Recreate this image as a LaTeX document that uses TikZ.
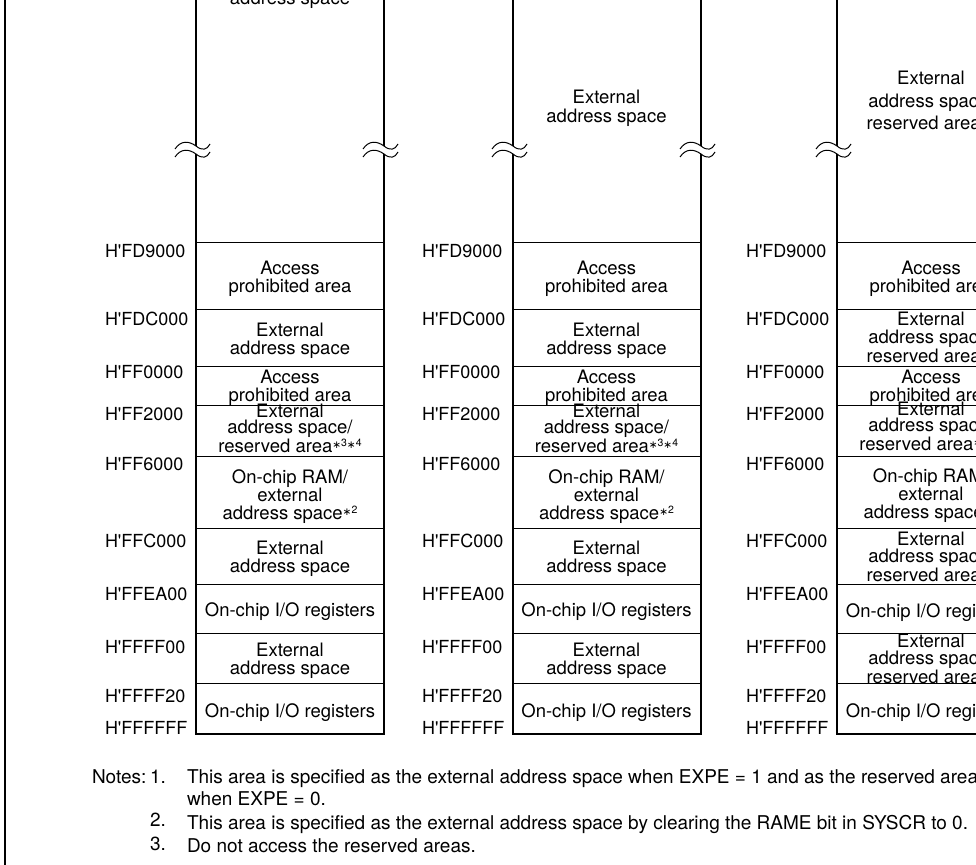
\documentclass[tikz,border=0pt]{standalone}
\usepackage{fontspec}
\setmainfont{TeX Gyre Heros}
\newfontfamily\djv{DejaVu Sans}
\newcommand\fnote[1]{{\fontsize{10.5}{10.5}\selectfont\raisebox{5.5pt}{#1}}}
\newcommand\stp{\raisebox{-1.5pt}{\djv ∗}}
\newcommand\hq{H\textquotesingle}
\begin{document}
\begin{tikzpicture}[x=1pt,y=-1pt,
  every node/.style={inner sep=0pt,outer sep=0pt,font=\fontsize{18.5}{18}\selectfont},
  cell/.style={anchor=base,align=center},
  addr/.style={anchor=base west,font=\fontsize{18}{18}\selectfont},
  notetext/.style={anchor=base west,font=\fontsize{19}{19}\selectfont},
  frame/.style={line width=2pt,line join=miter},
  divider/.style={line width=1pt},
  wave/.style={line width=1pt},
  brk/.pic={\draw[wave] (-21,3) .. controls (-15,-6) and (-7,-5) .. (0,0) .. controls (6,5) and (11,4) .. (14,-2);}]
\useasboundingbox (0,0) rectangle (976,864);
\clip (0,0) rectangle (976,864);
% outer frame line
\draw[frame] (5,-10) -- (5,874);
% memory columns
\foreach \L/\c in {196/a,513/b,837/c} {
  \pgfmathsetmacro\R{\L+188}
  \draw[frame] (\L,-10) -- (\L,146);
  \draw[frame] (\L,154) -- (\L,734) -- (\R,734) -- (\R,154);
  \draw[frame] (\R,146) -- (\R,-10);
  \foreach \y in {242,309,366,405,456,528,584,633,683}
    \draw[divider] (\L,\y) -- (\R,\y);
  \foreach \x in {\L,\R} {
    \pic at (\x,146) {brk};
    \pic at (\x,154) {brk};
  }
  \foreach \t/\b [count=\k] in {FD9000/257,FDC000/325,FF0000/378,FF2000/420,FF6000/470,FFC000/547,FFEA00/600,FFFF00/653,FFFF20/702,FFFFFF/734}
    \node[addr] (\c lab\k) at (\L-91,\b) {\hq\t};
}
% column 1 (anchor = baseline of last line)
\node[cell] (a0) at (290,5) {External\\address space};
\node[cell] (a1) at (290,292) {Access\\prohibited area};
\node[cell] (a2) at (290,354) {External\\address space};
\node[cell] (a3) at (290,401) {Access\\prohibited area};
\node[cell,font=\fontsize{18.5}{16}\selectfont] (a4) at (290,452) {External\\address space/\\reserved area\fnote{\stp3\stp4}};
\node[cell] (a5) at (290,519) {On-chip RAM/\\external\\address space\fnote{\stp2}};
\node[cell] (a6) at (290,572) {External\\address space};
\node[cell] (a7) at (290,616) {On-chip I/O registers};
\node[cell] (a8) at (290,674) {External\\address space};
\node[cell] (a9) at (290,717) {On-chip I/O registers};
% column 2
\node[cell] (b0) at (606.5,122) {External\\address space};
\node[cell] (b1) at (606.5,292) {Access\\prohibited area};
\node[cell] (b2) at (606.5,354) {External\\address space};
\node[cell] (b3) at (606.5,401) {Access\\prohibited area};
\node[cell,font=\fontsize{18.5}{16}\selectfont] (b4) at (606.5,452) {External\\address space/\\reserved area\fnote{\stp3\stp4}};
\node[cell] (b5) at (606.5,519) {On-chip RAM/\\external\\address space\fnote{\stp2}};
\node[cell] (b6) at (606.5,572) {External\\address space};
\node[cell] (b7) at (606.5,616) {On-chip I/O registers};
\node[cell] (b8) at (606.5,674) {External\\address space};
\node[cell] (b9) at (606.5,717) {On-chip I/O registers};
% column 3
\node[cell,font=\fontsize{18.5}{22}\selectfont] (c0) at (931,129) {External\\address space/\\reserved area\fnote{\stp1}};
\node[cell] (c1) at (931,292) {Access\\prohibited area};
\node[cell,font=\fontsize{18.5}{18.5}\selectfont] (c2) at (931,362) {External\\address space/\\reserved area\fnote{\stp1}};
\node[cell] (c3) at (931,401) {Access\\prohibited area};
\node[cell,font=\fontsize{18.5}{15.5}\selectfont] (c4) at (931,450) {External\\address space/\\reserved area\fnote{\stp3\stp4}};
\node[cell] (c5) at (931,518) {On-chip RAM/\\external\\address space\fnote{\stp2}};
\node[cell,font=\fontsize{18.5}{17}\selectfont] (c6) at (931,581) {External\\address space/\\reserved area\fnote{\stp1}};
\node[cell] (c7) at (931,617) {On-chip I/O registers};
\node[cell,font=\fontsize{18.5}{16.5}\selectfont] (c8) at (931,683) {External\\address space/\\reserved area\fnote{\stp1}};
\node[cell] (c9) at (931,717) {On-chip I/O registers};
% notes
\node[notetext] (n0) at (92,783) {Notes:};
\node[notetext] (n1) at (150,783) {1.};
\node[notetext] (t1) at (187,783) {This area is specified as the external address space when EXPE = 1 and as the reserved area};
\node[notetext] (t1b) at (187,805) {when EXPE = 0.};
\node[notetext] (n2) at (150,826) {2.};
\node[notetext] (t2) at (187,829) {This area is specified as the external address space by clearing the RAME bit in SYSCR to 0.};
\node[notetext] (n3) at (150,850) {3.};
\node[notetext] (t3) at (187,852) {Do not access the reserved areas.};
\end{tikzpicture}
\end{document}
